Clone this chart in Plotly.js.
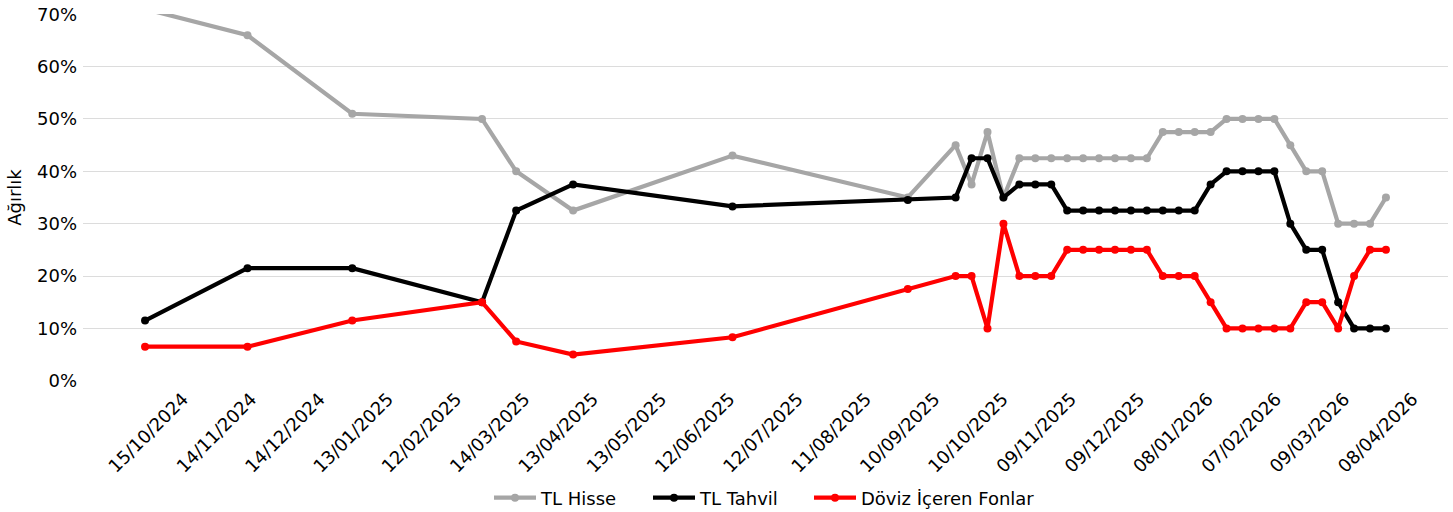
<!DOCTYPE html>
<html>
<head>
<meta charset="utf-8">
<script src="https://cdn.plot.ly/plotly-3.0.1.min.js"></script>
<style>html,body{margin:0;padding:0;background:#fff;}#chart{width:1453px;height:512px;}</style>
</head>
<body>
<div id="chart"></div>
<script>
// ---- data ----
const dates = [
  "2024-10-15","2024-11-29","2025-01-14","2025-03-12","2025-03-27","2025-04-21",
  "2025-06-30","2025-09-15",
  "2025-10-06","2025-10-13","2025-10-20","2025-10-27","2025-11-03","2025-11-10",
  "2025-11-17","2025-11-24","2025-12-01","2025-12-08","2025-12-15","2025-12-22",
  "2025-12-29","2026-01-05","2026-01-12","2026-01-19","2026-01-26","2026-02-02",
  "2026-02-09","2026-02-16","2026-02-23","2026-03-02","2026-03-09","2026-03-16",
  "2026-03-23","2026-03-30","2026-04-06","2026-04-13"
];
const tlHisse = [
  0.71,0.66,0.51,0.50,0.40,0.325,
  0.43,0.35,
  0.45,0.375,0.475,0.35,0.425,0.425,
  0.425,0.425,0.425,0.425,0.425,0.425,
  0.425,0.475,0.475,0.475,0.475,0.50,
  0.50,0.50,0.50,0.45,0.40,0.40,
  0.30,0.30,0.30,0.35
];
const tlTahvil = [
  0.115,0.215,0.215,0.15,0.325,0.375,
  0.333,0.345,
  0.35,0.425,0.425,0.35,0.375,0.375,
  0.375,0.325,0.325,0.325,0.325,0.325,
  0.325,0.325,0.325,0.325,0.375,0.40,
  0.40,0.40,0.40,0.30,0.25,0.25,
  0.15,0.10,0.10,0.10
];
const dovizFon = [
  0.065,0.065,0.115,0.15,0.075,0.05,
  0.083,0.175,
  0.20,0.20,0.10,0.30,0.20,0.20,
  0.20,0.25,0.25,0.25,0.25,0.25,
  0.25,0.20,0.20,0.20,0.15,0.10,
  0.10,0.10,0.10,0.10,0.15,0.15,
  0.10,0.20,0.25,0.25
];
const tickDates = [
  "2024-10-15","2024-11-14","2024-12-14","2025-01-13","2025-02-12","2025-03-14",
  "2025-04-13","2025-05-13","2025-06-12","2025-07-12","2025-08-11","2025-09-10",
  "2025-10-10","2025-11-09","2025-12-09","2026-01-08","2026-02-07","2026-03-09","2026-04-08"
];
const tickLabels = [
  "15/10/2024","14/11/2024","14/12/2024","13/01/2025","12/02/2025","14/03/2025",
  "13/04/2025","13/05/2025","12/06/2025","12/07/2025","11/08/2025","10/09/2025",
  "10/10/2025","09/11/2025","09/12/2025","08/01/2026","07/02/2026","09/03/2026","08/04/2026"
];
const yTicks = [0,0.1,0.2,0.3,0.4,0.5,0.6,0.7];
const seriesNames = ["TL Hisse","TL Tahvil","Döviz İçeren Fonlar"];
const seriesColors = ["#a6a6a6","#000000","#ff0000"];

const FONT = "DejaVu Sans, sans-serif";
const FS = 18;
const W = 1453, H = 512;
const M = {l: 83, r: 5, t: 14, b: 131};
const plotW = W - M.l - M.r, plotH = H - M.t - M.b;

const allY = [tlHisse, tlTahvil, dovizFon];
const legendIds = ["legend", "legend2", "legend3"];
const traces = allY.map((ys, i) => ({
  type: "scatter",
  mode: "lines+markers",
  x: dates,
  y: ys,
  name: seriesNames[i],
  legend: legendIds[i],
  line: {color: seriesColors[i], width: 4.2},
  marker: {color: seriesColors[i], size: 8}
}));

// legend entry left edges in pixels
const legendPx = [489, 648, 809];
const legendYpx = 498;
function mkLegend(px) {
  return {
    orientation: "h",
    x: (px - M.l) / plotW, xanchor: "left",
    y: -(legendYpx - (M.t + plotH)) / plotH, yanchor: "middle",
    itemwidth: 42,
    borderwidth: 0,
    font: {family: FONT, size: FS, color: "#000"},
    bgcolor: "rgba(0,0,0,0)"
  };
}

const layout = {
  width: W,
  height: H,
  margin: {l: M.l, r: M.r, t: M.t, b: M.b, autoexpand: false},
  paper_bgcolor: "#ffffff",
  plot_bgcolor: "#ffffff",
  font: {family: FONT, size: FS, color: "#000"},
  showlegend: true,
  legend: mkLegend(legendPx[0]),
  legend2: mkLegend(legendPx[1]),
  legend3: mkLegend(legendPx[2]),
  xaxis: {
    type: "date",
    automargin: false,
    range: ["2024-09-17 18:00", "2026-05-10 06:00"],
    tickmode: "array",
    tickvals: tickDates,
    ticktext: tickLabels,
    tickangle: -45,
    ticklabelshift: 38,
    ticklabelstandoff: 3,
    showgrid: false,
    zeroline: false,
    showline: false,
    ticks: "",
    tickfont: {family: FONT, size: FS, color: "#000"}
  },
  yaxis: {
    automargin: false,
    range: [-0.0005, 0.7005],
    tickmode: "array",
    tickvals: yTicks,
    tickformat: ".0%",
    showgrid: true,
    gridcolor: "#dcdcdc",
    gridwidth: 1,
    zeroline: false,
    showline: false,
    ticks: "",
    ticklabelstandoff: 5,
    tickfont: {family: FONT, size: FS, color: "#000"},
    title: {text: "Ağırlık", font: {family: FONT, size: FS, color: "#000"}, standoff: 10}
  }
};

Plotly.newPlot("chart", traces, layout, {displayModeBar: false, staticPlot: true});
</script>
</body>
</html>
